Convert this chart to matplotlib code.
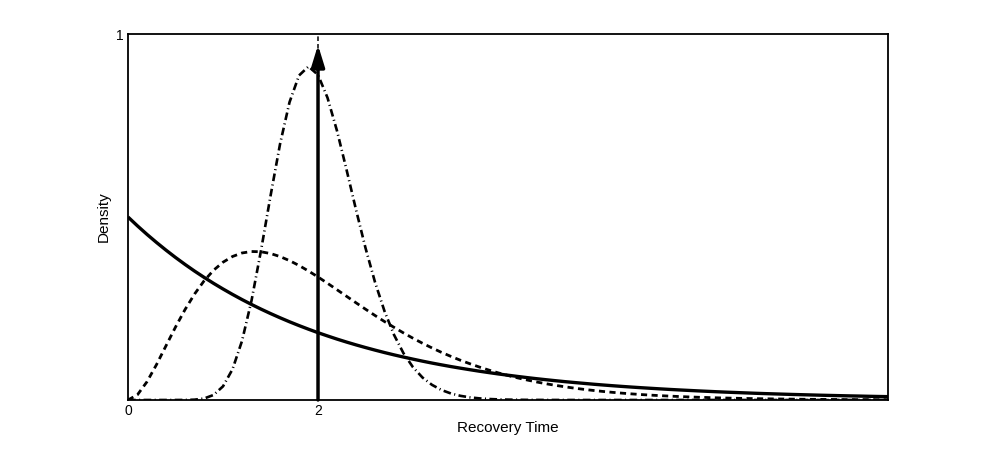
import matplotlib
matplotlib.use("Agg")
import matplotlib.pyplot as plt
import numpy as np

plt.rcParams['font.family'] = ['Liberation Sans', 'DejaVu Sans']

# recovery time grid (0 .. 8, step 0.1)
t = np.round(np.arange(0, 81) * 0.1, 1)

# solid curve
solid = [0.5000, 0.4756, 0.4524, 0.4304, 0.4094, 0.3894, 0.3704, 0.3523, 0.3352, 0.3188,
         0.3033, 0.2885, 0.2744, 0.2610, 0.2483, 0.2362, 0.2247, 0.2137, 0.2033, 0.1934,
         0.1839, 0.1750, 0.1664, 0.1583, 0.1506, 0.1433, 0.1363, 0.1296, 0.1233, 0.1173,
         0.1116, 0.1061, 0.1009, 0.0960, 0.0913, 0.0869, 0.0827, 0.0786, 0.0748, 0.0711,
         0.0677, 0.0644, 0.0612, 0.0582, 0.0554, 0.0527, 0.0501, 0.0477, 0.0454, 0.0431,
         0.0410, 0.0390, 0.0371, 0.0353, 0.0336, 0.0320, 0.0304, 0.0289, 0.0275, 0.0262,
         0.0249, 0.0237, 0.0225, 0.0214, 0.0204, 0.0194, 0.0184, 0.0175, 0.0167, 0.0159,
         0.0151, 0.0144, 0.0137, 0.0130, 0.0124, 0.0118, 0.0112, 0.0107, 0.0101, 0.0096,
         0.0092]

# dashed curve
dashed = [0.0000, 0.0145, 0.0500, 0.0968, 0.1482, 0.1993, 0.2470, 0.2894, 0.3253, 0.3544,
          0.3765, 0.3921, 0.4017, 0.4057, 0.4050, 0.4002, 0.3919, 0.3808, 0.3675, 0.3524,
          0.3361, 0.3189, 0.3012, 0.2834, 0.2656, 0.2481, 0.2309, 0.2143, 0.1985, 0.1832,
          0.1687, 0.1550, 0.1422, 0.1301, 0.1190, 0.1085, 0.0989, 0.0899, 0.0816, 0.0739,
          0.0669, 0.0605, 0.0547, 0.0493, 0.0444, 0.0400, 0.0360, 0.0323, 0.0290, 0.0260,
          0.0233, 0.0209, 0.0187, 0.0167, 0.0149, 0.0133, 0.0119, 0.0106, 0.0095, 0.0084,
          0.0075, 0.0067, 0.0059, 0.0053, 0.0047, 0.0042, 0.0037, 0.0033, 0.0029, 0.0026,
          0.0023, 0.0020, 0.0018, 0.0016, 0.0014, 0.0012, 0.0011, 0.0010, 0.0009, 0.0008,
          0.0007]

# dash-dot curve
dashdot = [0.0000, 0.0000, 0.0000, 0.0000, 0.0000, 0.0000, 0.0001, 0.0009, 0.0040, 0.0137,
           0.0373, 0.0840, 0.1614, 0.2716, 0.4086, 0.5575, 0.6990, 0.8136, 0.8867, 0.9112,
           0.8883, 0.8258, 0.7353, 0.6295, 0.5198, 0.4153, 0.3219, 0.2426, 0.1781, 0.1276,
           0.0894, 0.0613, 0.0413, 0.0272, 0.0177, 0.0113, 0.0071, 0.0044, 0.0027, 0.0016,
           0.0010, 0.0006, 0.0003, 0.0002, 0.0001, 0.0001, 0.0000, 0.0000, 0.0000, 0.0000,
           0.0000, 0.0000, 0.0000, 0.0000, 0.0000, 0.0000, 0.0000, 0.0000, 0.0000, 0.0000,
           0.0000, 0.0000, 0.0000, 0.0000, 0.0000, 0.0000, 0.0000, 0.0000, 0.0000, 0.0000,
           0.0000, 0.0000, 0.0000, 0.0000, 0.0000, 0.0000, 0.0000, 0.0000, 0.0000, 0.0000,
           0.0000]

arrow_x = 2
arrow_top = 0.97

fig = plt.figure(figsize=(9.81, 4.51), dpi=100)
ax = fig.add_axes([0.1305, 0.1131, 0.7747, 0.8115])

ax.plot(t, solid, color='k', lw=2.4, solid_capstyle='butt')
ax.plot(t, dashed, color='k', lw=2.0, dashes=(2.2, 1.6))
ax.plot(t, dashdot, color='k', lw=1.9, dashes=(2.9, 1.3, 0.4, 1.3))

# dashed guide at x = 2 and the arrow on top of it
ax.axvline(arrow_x, color='k', lw=1.1, ls=(0, (3, 2)))
ax.annotate('', xy=(arrow_x, arrow_top), xytext=(arrow_x, 0),
            arrowprops=dict(arrowstyle='-|>,head_length=0.65,head_width=0.2',
                            lw=2.5, color='k', shrinkA=0, shrinkB=0,
                            mutation_scale=20))

ax.set_xlim(0, 8)
ax.set_ylim(0, 1)
ax.set_xticks([0, 2])
ax.set_yticks([1])
ax.tick_params(length=0, labelsize=10, pad=3)
ax.tick_params(axis='y', pad=3)
for sp in ax.spines.values():
    sp.set_linewidth(1.3)

ax.set_xlabel('Recovery Time', fontsize=11, labelpad=2)
ax.set_ylabel('Density', fontsize=11, labelpad=4)

fig.savefig('out.png', dpi=100)
